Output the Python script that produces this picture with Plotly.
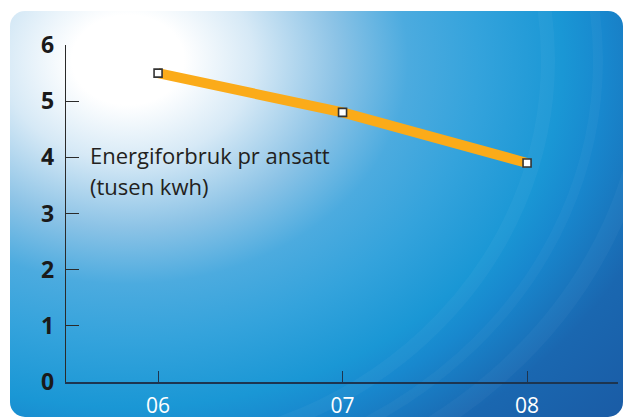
import base64
import plotly.graph_objects as go

# ---- data ----
years = [6, 7, 8]
year_labels = ["06", "07", "08"]
energy = [5.5, 4.8, 3.9]
y_ticks = [0, 1, 2, 3, 4, 5, 6]
label_line1 = "Energiforbruk pr ansatt"
label_line2 = "(tusen kwh)"

W, H = 624, 419
L, R, T, B = 66, 6, 45, 37
PW, PH = W - L - R, H - T - B

svg = f"""<svg xmlns='http://www.w3.org/2000/svg' width='{W}' height='{H}' viewBox='0 0 {W} {H}'>
<defs>
<radialGradient id='g' gradientUnits='userSpaceOnUse' cx='128' cy='60' r='560'
 gradientTransform='translate(128 60) scale(1.25 1) translate(-128 -60)'>
<stop offset='0' stop-color='#ffffff'/>
<stop offset='0.08' stop-color='#ffffff'/>
<stop offset='0.18' stop-color='#d6e9f6'/>
<stop offset='0.30' stop-color='#8cc3e6'/>
<stop offset='0.40' stop-color='#4cabdf'/>
<stop offset='0.50' stop-color='#34a3dc'/>
<stop offset='0.62' stop-color='#1a97d5'/>
<stop offset='0.68' stop-color='#1888ce'/>
<stop offset='0.80' stop-color='#1a67b0'/>
<stop offset='1' stop-color='#1a58a2'/>
</radialGradient>
<clipPath id='c'><rect x='10' y='11' width='613' height='406' rx='15'/></clipPath>
</defs>
<rect x='10' y='11' width='613' height='406' rx='15' fill='url(#g)'/>
<g clip-path='url(#c)' fill='none' stroke='#ffffff'>
<ellipse cx='128' cy='60' rx='420' ry='390' stroke-opacity='0.035' stroke-width='14'/>
<ellipse cx='128' cy='60' rx='470' ry='420' stroke-opacity='0.03' stroke-width='10'/>
<ellipse cx='128' cy='60' rx='520' ry='450' stroke-opacity='0.03' stroke-width='18'/>
</g>
</svg>"""
src = "data:image/svg+xml;base64," + base64.b64encode(svg.encode()).decode()

fig = go.Figure()
fig.add_trace(go.Scatter(
    x=years, y=energy, mode="lines",
    line=dict(color="#fbab19", width=10),
    hoverinfo="skip", showlegend=False,
))
fig.add_trace(go.Scatter(
    x=years, y=energy, mode="markers",
    marker=dict(symbol="square", size=8, color="#ffffff",
                line=dict(color="#333333", width=1.6)),
    showlegend=False,
))

fig.add_layout_image(dict(
    source=src, xref="paper", yref="paper",
    x=-L / PW, y=1 + T / PH, sizex=W / PW, sizey=H / PH,
    xanchor="left", yanchor="top", sizing="stretch", layer="below",
))

ann_font = dict(family="Open Sans", size=22, color="#231f20")
fig.add_annotation(text=label_line1, xref="paper", yref="y",
                   x=(88 - L) / PW, y=(382 - 155) / (PH / 6),
                   xanchor="left", yanchor="middle", showarrow=False, font=ann_font)
fig.add_annotation(text=label_line2, xref="paper", yref="y",
                   x=(88 - L) / PW, y=(382 - 186) / (PH / 6),
                   xanchor="left", yanchor="middle", showarrow=False, font=ann_font)

fig.update_layout(
    width=W, height=H,
    margin=dict(l=L, r=R, t=T, b=B, pad=0, autoexpand=False),
    paper_bgcolor="#ffffff", plot_bgcolor="rgba(0,0,0,0)",
    showlegend=False,
    xaxis=dict(
        range=[5.501, 8.493], tickvals=years, ticktext=year_labels,
        showgrid=False, zeroline=False, showline=True, automargin=False,
        linecolor="#1d3550", linewidth=2.2,
        ticks="inside", ticklen=11, tickwidth=1.3, tickcolor="#1d3550",
        tickfont=dict(family="Open Sans", size=21, color="#ffffff"),
        ticklabelstandoff=4, fixedrange=True,
    ),
    yaxis=dict(
        range=[0, 6], tickvals=y_ticks,
        showgrid=False, zeroline=False, showline=True, automargin=False,
        linecolor="#2a2a2a", linewidth=1.4,
        ticks="inside", ticklen=13, tickwidth=1.3, tickcolor="#2a2a2a",
        tickfont=dict(family="Open Sans", size=23, color="#1a1a1a", weight="bold"),
        ticklabelstandoff=6, fixedrange=True,
    ),
)
fig.write_html("out.html", config={"displayModeBar": False},
               post_script="document.body.style.margin='0';")
